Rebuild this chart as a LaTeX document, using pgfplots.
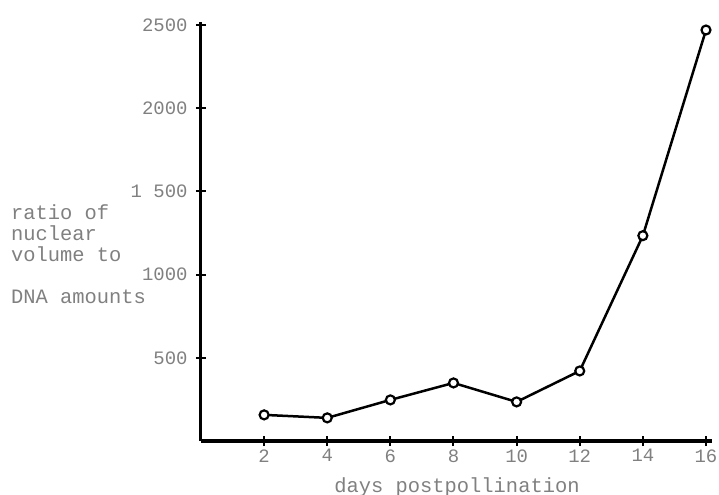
\documentclass[border=0pt]{standalone}
\usepackage{pgfplots}
\pgfplotsset{compat=1.18}
\usepackage{fontspec}
\setmainfont{Liberation Mono}
\begin{document}
\begin{tikzpicture}
\path[use as bounding box] (-201bp,-54bp) rectangle (518bp,441bp);
\begin{axis}[
  at={(0bp,0bp)}, anchor=south west,
  scale only axis, width=511.3bp, height=419.3bp,
  xmin=0, xmax=16.2, ymin=0, ymax=2520,
  axis lines=left,
  axis line style={-, line width=3bp, black},
  xtick={2,4,...,16}, ytick={500,1000,...,2500},
  yticklabels={500,1000,1 500,2000,2500},
  tick align=center, major tick length=10bp,
  tick style={line width=2bp, black},
  ticklabel style={font=\fontsize{19}{21}\selectfont, text=black!50},
  yticklabel style={xshift=-5bp},
  /pgf/number format/assume math mode=true,
  clip=false,
]
\addplot[line width=2.5bp, black, mark=*, mark size=4.5bp,
  mark options={fill=white, line width=2.2bp}] coordinates {
  (2,157) (4,139) (6,247) (8,349) (10,235) (12,421) (14,1234) (16,2470)
};
\end{axis}
\begin{scope}[every node/.style={anchor=west, inner sep=0pt, text=black!50,
    font=\fontsize{20.5}{22}\selectfont}]
  \node at (-190bp,229bp) {ratio of};
  \node at (-190bp,208bp) {nuclear};
  \node at (-190bp,187bp) {volume to};
  \node at (-190bp,144bp) {DNA amounts};
\end{scope}
\node[text=black!50, font=\fontsize{20.5}{22}\selectfont, inner sep=0pt]
  at (256bp,-46bp) {days postpollination};
\end{tikzpicture}
\end{document}
